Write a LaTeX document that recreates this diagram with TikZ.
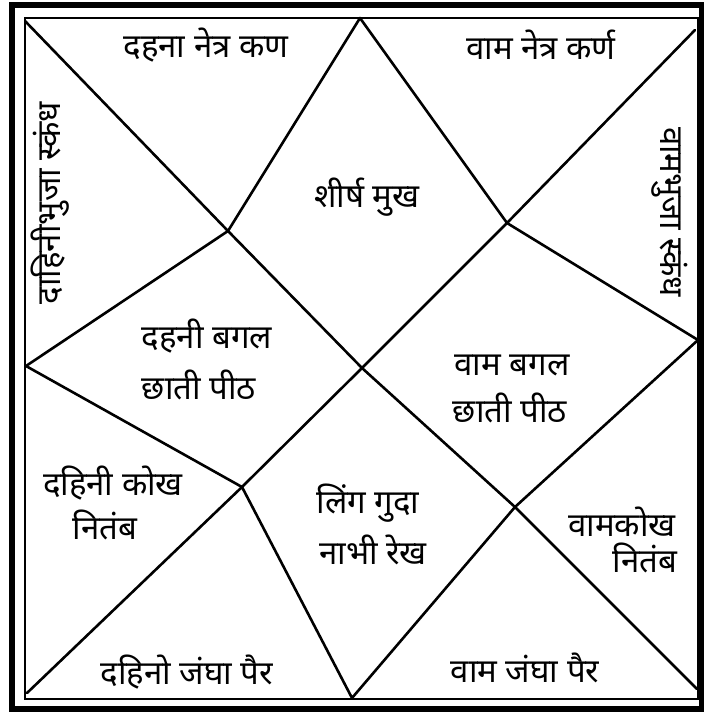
\documentclass[tikz,border=0pt]{standalone}
\usepackage{fontspec}
\newfontfamily\dev[Script=Devanagari]{Noto Sans}
\begin{document}
\begin{tikzpicture}[x=1pt,y=-1pt,
  ln/.style={line width=2.6pt, line cap=round, line join=round},
  frameouter/.style={line width=5.5pt},
  frameinner/.style={line width=2.6pt},
  lbl/.style={font=\dev\fontsize{33}{38}\selectfont, inner sep=0pt}]
\useasboundingbox (0,0) rectangle (704,715);
\fill[white] (0,0) rectangle (704,715);
% frame
\draw[frameouter] (12,5) rectangle (702,709);
\draw[frameinner] (25,18) rectangle (698,699);
% key points
\coordinate (c1) at (25,21);
\coordinate (c2) at (695,30);
\coordinate (c3) at (697,689);
\coordinate (c4) at (27,693);
\coordinate (T) at (360,18);
\coordinate (R) at (698,340);
\coordinate (B) at (352,698);
\coordinate (L) at (26,366);
\coordinate (X1) at (228,231);
\coordinate (X2) at (507,223);
\coordinate (X0) at (362,368);
\coordinate (X3) at (242,487);
\coordinate (X4) at (515,507);
% diagonals
\draw[ln] (c1) -- (X1) -- (X0) -- (X4) -- (c3);
\draw[ln] (c2) -- (X2) -- (X0) -- (X3) -- (c4);
% diamond
\draw[ln] (T) -- (X1) -- (L) -- (X3) -- (B) -- (X4) -- (R) -- (X2) -- cycle;
% labels
\node[lbl] (n1) at (206,45) {दहना नेत्र कण};
\node[lbl] (n2) at (541,45) {वाम नेत्र कर्ण};
\node[lbl] (n3) at (367,197) {शीर्ष मुख};
\node[lbl, rotate=90] (n4) at (50,203) {दाहिनीभुजा स्कंध};
\node[lbl, rotate=-90] (n5) at (670,212) {वामभुजा स्कंध};
\node[lbl] (n6a) at (207,336) {दहनी बगल};
\node[lbl] (n6b) at (199,385) {छाती पीठ};
\node[lbl] (n7a) at (512,365) {वाम बगल};
\node[lbl] (n7b) at (510,408) {छाती पीठ};
\node[lbl] (n8a) at (113,483) {दहिनी कोख};
\node[lbl] (n8b) at (105,525) {नितंब};
\node[lbl] (n9a) at (368,503) {लिंग गुदा};
\node[lbl] (n9b) at (373,550) {नाभी रेख};
\node[lbl] (n10a) at (622,522) {वामकोख};
\node[lbl] (n10b) at (645,558) {नितंब};
\node[lbl] (n11) at (187,672) {दहिनो जंघा पैर};
\node[lbl] (n12) at (525,668) {वाम जंघा पैर};
\end{tikzpicture}
\end{document}
